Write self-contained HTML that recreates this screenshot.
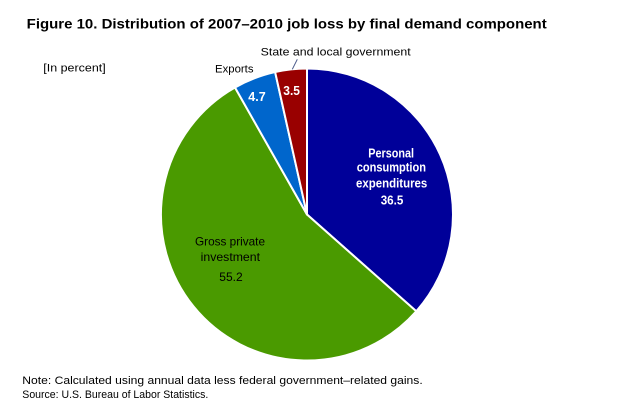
<!DOCTYPE html>
<html>
<head>
<meta charset="utf-8">
<style>
  html, body { margin: 0; padding: 0; background: #ffffff; }
  svg { display: block; }
  text { font-family: "Liberation Sans", "DejaVu Sans", sans-serif; }
</style>
</head>
<body>
<svg width="625" height="415" viewBox="0 0 625 415" xmlns="http://www.w3.org/2000/svg">
  <rect x="0" y="0" width="625" height="415" fill="#ffffff"/>

  <!-- Title -->
  <text x="26.7" y="28.5" font-size="14" font-weight="bold" fill="#000" textLength="520" lengthAdjust="spacingAndGlyphs">Figure 10. Distribution of 2007–2010 job loss by final demand component</text>

  <!-- Unit label -->
  <text x="43.3" y="71.5" font-size="11" fill="#000" textLength="62.4" lengthAdjust="spacingAndGlyphs">[In percent]</text>

  <!-- Pie slices -->
  <g stroke="#ffffff" stroke-width="2" stroke-linejoin="round">
    <!-- Personal consumption expenditures 36.5 -->
    <path d="M307,214.5 L307,68.5 A146,146 0 0 1 416.28,311.31 Z" fill="#000099"/>
    <!-- Gross private investment 55.2 -->
    <path d="M307,214.5 L416.28,311.31 A146,146 0 1 1 235.0,87.5 Z" fill="#4a9a00"/>
    <!-- Exports 4.7 -->
    <path d="M307,214.5 L235.0,87.5 A146,146 0 0 1 275.11,72.02 Z" fill="#0066cc"/>
    <!-- State and local government 3.5 -->
    <path d="M307,214.5 L275.11,72.02 A146,146 0 0 1 307,68.5 Z" fill="#990000"/>
  </g>

  <!-- Outside labels -->
  <text x="215" y="72.5" font-size="11" fill="#000" textLength="38.5" lengthAdjust="spacingAndGlyphs">Exports</text>
  <text x="260.7" y="55.5" font-size="11" fill="#000" textLength="150" lengthAdjust="spacingAndGlyphs">State and local government</text>
  <line x1="297.3" y1="59.3" x2="292.3" y2="69.3" stroke="#4a5a8a" stroke-width="1"/>

  <!-- Small slice values -->
  <text x="248.3" y="101" font-size="12.5" font-weight="bold" fill="#fff" textLength="17.4" lengthAdjust="spacingAndGlyphs">4.7</text>
  <text x="283.3" y="95" font-size="12.5" font-weight="bold" fill="#fff" textLength="16.7" lengthAdjust="spacingAndGlyphs">3.5</text>

  <!-- PCE label -->
  <text x="368.3" y="157.3" font-size="13" font-weight="bold" fill="#fff" textLength="45.7" lengthAdjust="spacingAndGlyphs">Personal</text>
  <text x="356.7" y="171.7" font-size="13" font-weight="bold" fill="#fff" textLength="69.3" lengthAdjust="spacingAndGlyphs">consumption</text>
  <text x="356" y="187.7" font-size="13" font-weight="bold" fill="#fff" textLength="71.3" lengthAdjust="spacingAndGlyphs">expenditures</text>
  <text x="380.7" y="204.3" font-size="13" font-weight="bold" fill="#fff" textLength="22.6" lengthAdjust="spacingAndGlyphs">36.5</text>

  <!-- GPI label -->
  <text x="195" y="245.5" font-size="12" fill="#000" textLength="70" lengthAdjust="spacingAndGlyphs">Gross private</text>
  <text x="200.7" y="261" font-size="12" fill="#000" textLength="59.3" lengthAdjust="spacingAndGlyphs">investment</text>
  <text x="219.3" y="281" font-size="12" fill="#000" textLength="23.4" lengthAdjust="spacingAndGlyphs">55.2</text>

  <!-- Notes -->
  <text x="22.3" y="384" font-size="11" fill="#000" textLength="400.4" lengthAdjust="spacingAndGlyphs">Note: Calculated using annual data less federal government–related  gains.</text>
  <text x="22.3" y="398" font-size="11" fill="#000" textLength="186" lengthAdjust="spacingAndGlyphs">Source: U.S. Bureau of Labor Statistics.</text>
</svg>
</body>
</html>
